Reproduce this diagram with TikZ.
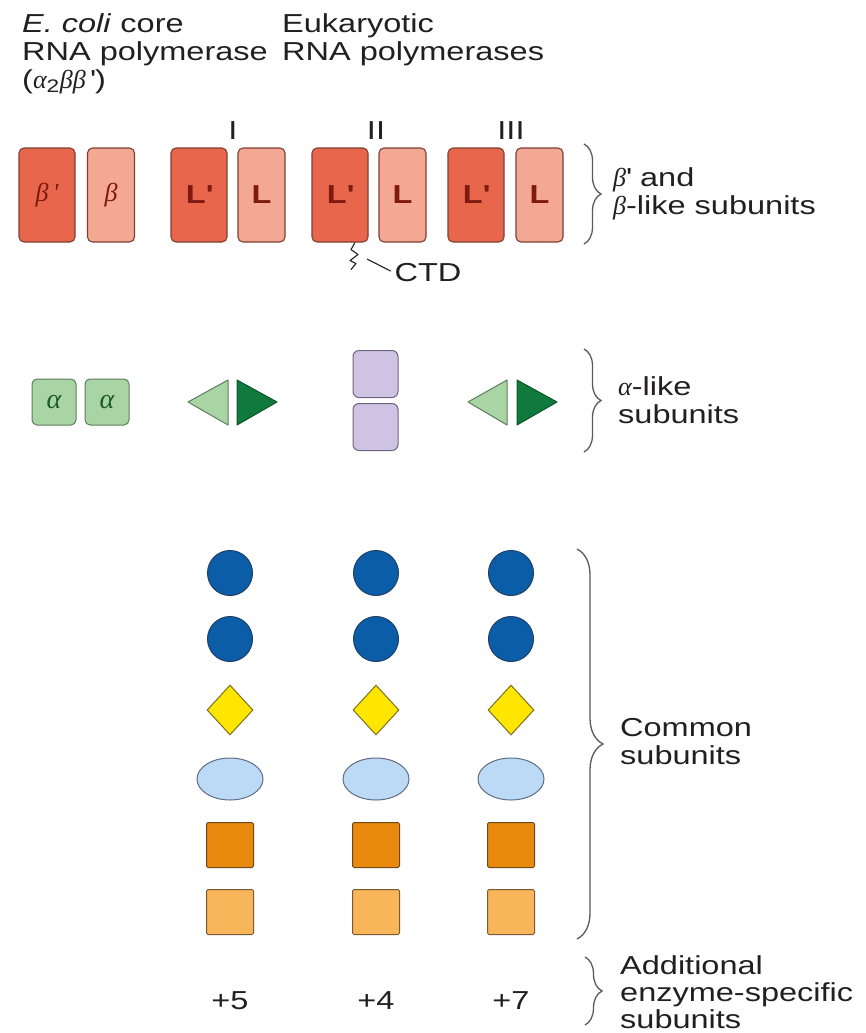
\documentclass[tikz,border=0pt]{standalone}
\usepackage{fontspec}
\setmainfont{Liberation Sans}[FakeStretch=1.25]
\newfontfamily\grk{Liberation Serif}
\usetikzlibrary{shapes.geometric,decorations.pathreplacing,calc}
\definecolor{reddark}{HTML}{E8674C}
\definecolor{redlight}{HTML}{F4A792}
\definecolor{redline}{HTML}{7B4034}
\definecolor{redtxt}{HTML}{7E1A10}
\definecolor{greenlight}{HTML}{A9D4A3}
\definecolor{greenline}{HTML}{5E7E5E}
\definecolor{greentxt}{HTML}{1D5C2A}
\definecolor{greendark}{HTML}{0F7A3C}
\definecolor{purp}{HTML}{CFC3E3}
\definecolor{purpline}{HTML}{6E6485}
\definecolor{blueone}{HTML}{0B5DA8}
\definecolor{blueline}{HTML}{1F3F66}
\definecolor{yel}{HTML}{FFE600}
\definecolor{yline}{HTML}{7D7020}
\definecolor{lblue}{HTML}{BCD9F5}
\definecolor{eline}{HTML}{5F6E85}
\definecolor{orangeone}{HTML}{E98A0F}
\definecolor{oline}{HTML}{6E4A1A}
\definecolor{orangetwo}{HTML}{F9B55A}
\definecolor{olinetwo}{HTML}{7A5A30}
\definecolor{txt}{HTML}{231F20}
\definecolor{bracecol}{HTML}{5A5A5A}
\begin{document}
\begin{tikzpicture}[x=1pt,y=-1pt,
 lbl/.style={font=\fontsize{26}{28}\selectfont, text=txt, align=left, inner sep=0pt},
 dbox/.style={draw=redline, fill=reddark, rounded corners=5pt, line width=1.1pt, minimum width=56pt, minimum height=94pt, inner sep=0pt, text=redtxt, font=\fontsize{26}{28}\selectfont\bfseries},
 lbox/.style={dbox, fill=redlight, minimum width=47pt},
 abox/.style={draw=greenline, fill=greenlight, rounded corners=5pt, line width=1pt, minimum width=44pt, minimum height=46pt, inner sep=0pt, text=greentxt, font=\fontsize{28}{30}\selectfont},
 pbox/.style={draw=purpline, fill=purp, rounded corners=6pt, line width=1pt, minimum width=45pt, minimum height=47pt, inner sep=0pt},
 circ/.style={circle, draw=blueline, fill=blueone, line width=1pt, minimum size=45pt, inner sep=0pt},
 diam/.style={diamond, draw=yline, fill=yel, line width=1pt, minimum width=46pt, minimum height=50pt, inner sep=0pt},
 ell/.style={ellipse, draw=eline, fill=lblue, line width=1pt, minimum width=66pt, minimum height=42pt, inner sep=0pt},
 osq/.style={draw=oline, fill=orangeone, line width=1pt, minimum width=47pt, minimum height=45pt, inner sep=0pt, rounded corners=1.5pt},
 lsq/.style={osq, fill=orangetwo, draw=olinetwo},
 tril/.style={draw=greenline, fill=greenlight, line width=1pt, line join=round},
 trid/.style={draw=greendark!70!black, fill=greendark, line width=1pt, line join=round},
 brc/.style={draw=bracecol, line width=1.3pt, decorate, decoration={brace, amplitude=17pt}},
 ctdline/.style={draw=txt, line width=1.1pt, line join=round}]
\useasboundingbox (0,0) rectangle (865,1033);
% titles
\node[lbl, anchor=north west] (t1) at (22,13) {\textit{E. coli} core\\RNA polymerase\\({\grk\itshape α}\textsubscript{2}{\grk\itshape ββ}\,\textquotesingle)};
\node[lbl, anchor=north west] (t2) at (282,13) {Eukaryotic\\RNA polymerases};
% numerals
\node[lbl] (nI) at (233,131) {I};
\node[lbl] (nII) at (376,131) {II};
\node[lbl] (nIII) at (511,131) {III};
% beta-like boxes
\node[dbox] (bp) at (47,195) {\normalfont\grk\itshape β\,\textquotesingle};
\node[lbox] (b) at (111,195) {\normalfont\grk\itshape β};
\node[dbox] (L1d) at (199,195) {L\textquotesingle};
\node[lbox] (L1) at (261.5,195) {L};
\node[dbox] (L2d) at (340,195) {L\textquotesingle};
\node[lbox] (L2) at (402.5,195) {L};
\node[dbox] (L3d) at (476,195) {L\textquotesingle};
\node[lbox] (L3) at (539.5,195) {L};
% CTD
\node[lbl] (ctd) at (428,273) {CTD};
\draw[ctdline] ($(L2d.south)+(15,0)$) -- ++(-4,7) -- ++(7,5) -- ++(-8,6) -- ++(6,3) -- ++(-5,6);
\coordinate (ctdA) at (367,259);
\draw[ctdline, shorten >=4pt] (ctdA) -- (ctd.west);
% alpha-like
\node[abox] (a1) at (54,402) {\grk\itshape α};
\node[abox] (a2) at (107,402) {\grk\itshape α};
\draw[tril] (188,402) -- (228,380) -- (228,425) -- cycle;
\draw[trid] (237,380) -- (277,402) -- (237,425) -- cycle;
\node[pbox] (pu1) at (375.5,374) {};
\node[pbox] (pu2) at (375.5,427) {};
\draw[tril] (468,402) -- (507,380) -- (507,425) -- cycle;
\draw[trid] (517,380) -- (557,402) -- (517,425) -- cycle;
% common subunits
\foreach \c/\x in {1/230,2/376,3/511}{
  \node[circ] (ca\c) at (\x,573) {};
  \node[circ] (cb\c) at (\x,639) {};
  \node[diam] (d\c) at (\x,710) {};
  \node[ell] (e\c) at (\x,779) {};
  \node[osq] (sa\c) at (\x,845) {};
  \node[lsq] (sb\c) at (\x,912) {};
}
\node[lbl] (p5) at (230,1001) {+5};
\node[lbl] (p4) at (376,1001) {+4};
\node[lbl] (p7) at (511,1001) {+7};
% braces
\draw[brc] (584,144) -- (584,244);
\draw[brc] (584,349) -- (584,452);
\draw[brc, decoration={brace, amplitude=26pt}] (577,549) -- (577,939);
\draw[brc] (585,957) -- (585,1025);
% brace labels
\node[lbl, anchor=west] (lb1) at (613,194) {{\grk\itshape β}\textquotesingle\ and\\{\grk\itshape β}-like subunits};
\node[lbl, anchor=west] (lb2) at (618,400) {{\grk\itshape α}-like\\subunits};
\node[lbl, anchor=west] (lb3) at (620,742) {Common\\subunits};
\node[lbl, anchor=west, font=\fontsize{26}{27}\selectfont] (lb4) at (620,992) {Additional\\enzyme-specific\\subunits};
\end{tikzpicture}
\end{document}
